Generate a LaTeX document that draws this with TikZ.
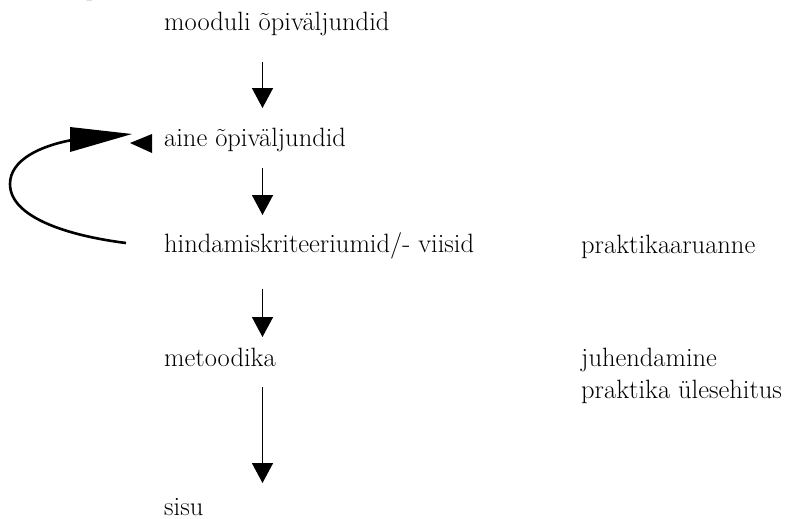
\documentclass[tikz,border=0pt]{standalone}
\usepackage{fontspec}
\usetikzlibrary{arrows.meta}
\begin{document}
\begin{tikzpicture}[x=1pt, y=-1pt,
  label/.style={anchor=base west, inner sep=0pt, font=\fontsize{26.5}{30}\selectfont},
  flow/.style={line width=1.6pt, -{Triangle[width=21pt, length=20pt]}},
  loopline/.style={line width=2.6pt}
]
\useasboundingbox (0,0) rectangle (795,519);

% clipped fragments of a line above the picture
\node[label] (frag1) at (86,-4) {p};
\node[label] (frag2) at (736,-4) {,};

% left column
\node[label] (mod)  at (164,31)  {mooduli õpiväljundid};
\node[label] (aine) at (164,146) {aine õpiväljundid};
\node[label] (hind) at (164,252) {hindamiskriteeriumid/- viisid};
\node[label] (met)  at (164,366) {metoodika};
\node[label] (sisu) at (164,515) {sisu};

% right column
\node[label] (prar) at (581,253) {praktikaaruanne};
\node[label] (juh)  at (581,366) {juhendamine};
\node[label] (pyl)  at (581,398) {praktika ülesehitus};

% vertical arrows between the levels
\coordinate (a1s) at (262.5,62);  \coordinate (a1e) at (262.5,108);
\coordinate (a2s) at (262.5,168); \coordinate (a2e) at (262.5,215);
\coordinate (a3s) at (262.5,289); \coordinate (a3e) at (262.5,337);
\coordinate (a4s) at (262.5,387); \coordinate (a4e) at (262.5,483);
\draw[flow] (a1s) -- (a1e);
\draw[flow] (a2s) -- (a2e);
\draw[flow] (a3s) -- (a3e);
\draw[flow] (a4s) -- (a4e);

% feedback loop from assessment back to subject outcomes
\coordinate (ls) at (126,243);
\coordinate (lm) at (10,184);
\coordinate (le) at (72,140);
\draw[loopline] (ls) .. controls (70,236) and (10,218) .. (lm)
                      .. controls (10,160) and (40,146) .. (le);
\fill (70,127) -- (132,134) -- (70,152) -- cycle;
\fill (130,143) -- (152,134) -- (152,153) -- cycle;
\end{tikzpicture}
\end{document}
